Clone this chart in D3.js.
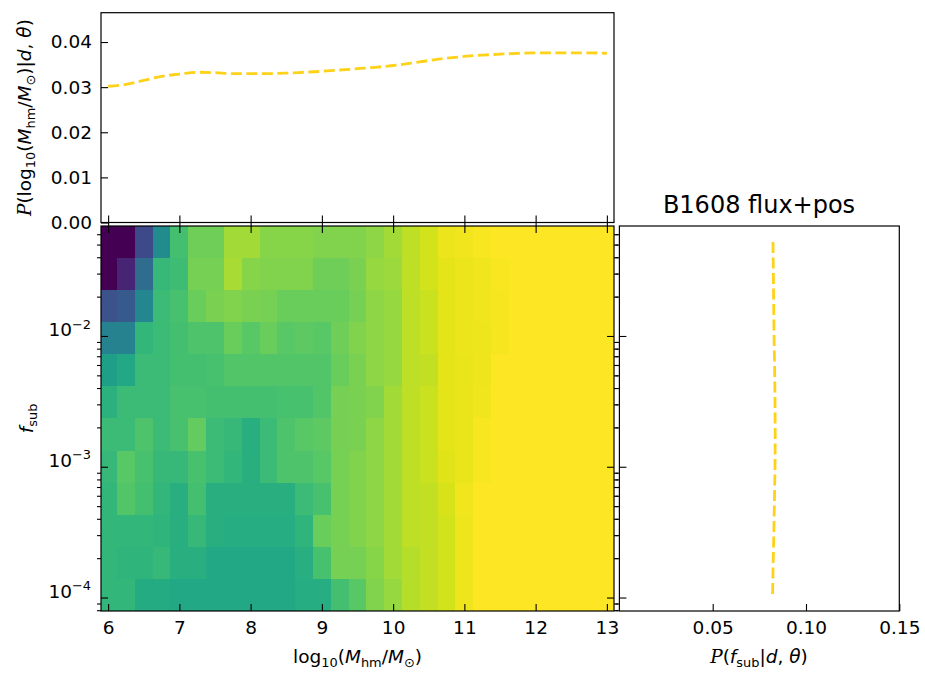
<!DOCTYPE html>
<html><head><meta charset="utf-8">
<script src="https://cdn.jsdelivr.net/npm/d3@7"></script>
<style>body{margin:0;background:#fff}svg{display:block}</style>
</head><body><svg id="c" width="925" height="673"></svg>
<script>
// ---------------- DATA ----------------
const massCenters = [6,6.25,6.5,6.75,7,7.25,7.5,7.75,8,8.25,8.5,8.75,9,9.25,9.5,9.75,10,10.25,10.5,10.75,11,11.25,11.5,11.75,12,12.25,12.5,12.75,13];
// log10(f_sub) row centres, top row first
const fsubLogCenters = [-1.282,-1.527,-1.772,-2.018,-2.263,-2.508,-2.753,-2.999,-3.244,-3.489,-3.735,-3.980];
// normalised joint posterior (colour value), one row per f_sub bin, top row first
const row0  = [0.00,0.00,0.22,0.48,0.70,0.78,0.78,0.86,0.86,0.82, 0.82,0.82,0.81,0.81,0.81,0.83,0.86,0.90,0.93,0.97, 0.98,0.99,1,1,1,1,1,1,1];
const row1  = [0.00,0.10,0.35,0.67,0.69,0.79,0.79,0.87,0.82,0.81, 0.81,0.81,0.78,0.78,0.80,0.84,0.85,0.90,0.93,0.96, 0.97,0.98,0.99,1,1,1,1,1,1];
const row2  = [0.25,0.28,0.46,0.68,0.71,0.77,0.80,0.81,0.80,0.79, 0.77,0.77,0.77,0.77,0.79,0.83,0.84,0.90,0.92,0.96, 0.97,0.98,0.985,1,1,1,1,1,1];
const row3  = [0.44,0.44,0.66,0.68,0.70,0.72,0.72,0.77,0.74,0.77, 0.74,0.75,0.74,0.78,0.81,0.83,0.84,0.90,0.92,0.96, 0.97,0.975,0.985,1,1,1,1,1,1];
const row4  = [0.56,0.60,0.68,0.68,0.70,0.70,0.71,0.73,0.73,0.73, 0.73,0.73,0.73,0.77,0.80,0.83,0.84,0.90,0.91,0.96, 0.965,0.975,1,1,1,1,1,1,1];
const row5  = [0.64,0.68,0.68,0.68,0.71,0.71,0.70,0.70,0.70,0.70, 0.71,0.71,0.73,0.79,0.80,0.81,0.86,0.90,0.92,0.96, 0.965,0.98,1,1,1,1,1,1,1];
const row6  = [0.68,0.68,0.72,0.68,0.71,0.76,0.68,0.67,0.63,0.68, 0.72,0.74,0.75,0.79,0.80,0.83,0.86,0.90,0.92,0.96, 0.965,0.99,1,1,1,1,1,1,1];
const row7  = [0.67,0.74,0.71,0.67,0.67,0.71,0.68,0.66,0.63,0.68, 0.72,0.72,0.74,0.79,0.81,0.83,0.86,0.90,0.92,0.95, 0.965,0.99,1,1,1,1,1,1,1];
const row8  = [0.66,0.73,0.70,0.66,0.63,0.70,0.63,0.63,0.63,0.63, 0.63,0.68,0.71,0.79,0.81,0.83,0.86,0.90,0.91,0.94, 0.98,1,1,1,1,1,1,1,1];
const row9  = [0.66,0.66,0.66,0.65,0.63,0.67,0.63,0.62,0.62,0.62, 0.62,0.65,0.77,0.79,0.81,0.83,0.86,0.90,0.91,0.93, 0.975,1,1,1,1,1,1,1,1];
const row10 = [0.66,0.65,0.65,0.67,0.63,0.63,0.60,0.60,0.60,0.60, 0.60,0.63,0.71,0.79,0.79,0.82,0.86,0.89,0.91,0.93, 0.975,1,1,1,1,1,1,1,1];
const row11 = [0.66,0.66,0.61,0.61,0.60,0.60,0.60,0.60,0.60,0.60, 0.60,0.62,0.62,0.70,0.74,0.81,0.84,0.89,0.91,0.93, 0.975,1,1,1,1,1,1,1,1];
const jointRows = [row0,row1,row2,row3,row4,row5,row6,row7,row8,row9,row10,row11];
// marginal over half-mode mass (top panel), one per massCenters
const massMarginal = [0.0302,0.0306,0.0315,0.0324,0.0329,0.0333,0.0332,0.0330,0.0330,0.0330,0.0331,0.0333,0.0335,0.0338,0.0341,0.0344,0.0348,0.0353,0.0359,0.0364,0.0368,0.0371,0.0373,0.0375,0.0376,0.0376,0.0376,0.0376,0.0375];
// marginal over f_sub (right panel), one per fsubLogCenters (top first)
const fsubMarginal = [0.0823,0.0825,0.0827,0.0829,0.0832,0.0834,0.0835,0.0834,0.0831,0.0828,0.0824,0.0821];
const massTicks = [6,7,8,9,10,11,12,13];
const fsubMajorTicks = [1e-4,1e-3,1e-2];
const topTicks = [0,0.01,0.02,0.03,0.04];
const rightTicks = [0.05,0.10,0.15];
const titleText = "B1608 flux+pos";

// ---------------- DRAW ----------------
const svg = d3.select('#c');
const FONT = "DejaVu Sans";
const FS = 18.5;
const LINE = "#ffd21a";

const xM = d3.scaleLinear().domain([5.9,13.1]).range([101,614]);
const yF = d3.scaleLog().domain([Math.pow(10,-4.103), Math.pow(10,-1.159)]).range([611,226]);
const yTop = d3.scaleLinear().domain([0,0.0465]).range([222.5,12.7]);
const xR = d3.scaleLinear().domain([0,0.15]).range([619.4,899.3]);
const color = d3.interpolateViridis;

function mathText(sel, parts, size){
  let shift = 0;
  parts.forEach(p => {
    const ts = sel.append('tspan').text(p.t);
    let target = 0, fsz = size;
    if (p.sub){ target = 0.22*size; fsz = size*0.7; }
    if (p.sup){ target = -0.42*size; fsz = size*0.7; }
    ts.attr('dy', (target - shift).toFixed(2)); shift = target;
    ts.attr('font-size', fsz);
    if (p.it) ts.attr('font-style','italic');
    if (p.cal) ts.attr('font-family','DejaVu Serif').attr('font-style','italic');
  });
}

// clip for heatmap
svg.append('defs').append('clipPath').attr('id','hm')
  .append('rect').attr('x',101).attr('y',226).attr('width',513).attr('height',385);

const halfW = (massCenters[1]-massCenters[0])/2;
const halfH = (fsubLogCenters[0]-fsubLogCenters[1])/2;
const cells = [];
jointRows.forEach((row,r) => row.forEach((v,c) => cells.push({r,c,v})));
svg.append('g').attr('clip-path','url(#hm)')
  .selectAll('rect').data(cells).join('rect')
  .attr('shape-rendering','crispEdges')
  .attr('x', d => xM(massCenters[d.c]-halfW))
  .attr('width', d => xM(massCenters[d.c]+halfW) - xM(massCenters[d.c]-halfW) + 0.5)
  .attr('y', d => yF(Math.pow(10, fsubLogCenters[d.r]+halfH)))
  .attr('height', d => yF(Math.pow(10, fsubLogCenters[d.r]-halfH)) - yF(Math.pow(10, fsubLogCenters[d.r]+halfH)) + 0.5)
  .attr('fill', d => color(d.v));

function styleAxis(g){
  g.select('.domain').remove();
  g.attr('font-family', FONT).attr('font-size', FS);
  g.selectAll('line').attr('stroke','#000').attr('stroke-width',1.1);
  g.selectAll('text').attr('fill','#000');
}
const minorTicks = yF.ticks().filter(t => !fsubMajorTicks.some(m => Math.abs(m-t)/m < 1e-6));

// heatmap axes
svg.append('g').attr('transform','translate(0,611)')
  .call(d3.axisBottom(xM).tickValues(massTicks).tickSizeInner(-7).tickSizeOuter(0).tickPadding(10).tickFormat(d3.format('d')))
  .call(styleAxis);
svg.append('g').attr('transform','translate(0,226)')
  .call(d3.axisTop(xM).tickValues(massTicks).tickSizeInner(-7).tickSizeOuter(0).tickFormat(''))
  .call(styleAxis);
const gl = svg.append('g').attr('transform','translate(101,0)')
  .call(d3.axisLeft(yF).tickValues(fsubMajorTicks).tickSizeInner(-7).tickSizeOuter(0).tickPadding(10).tickFormat(''))
  .call(styleAxis);
gl.selectAll('.tick text').each(function(d){
  const t = d3.select(this).attr('dy','0.32em');
  mathText(t, [{t:'10'},{t:'\u2212'+Math.round(-Math.log10(d)), sup:true}], FS);
});
svg.append('g').attr('transform','translate(101,0)')
  .call(d3.axisLeft(yF).tickValues(minorTicks).tickSizeInner(4).tickSizeOuter(0).tickFormat(''))
  .call(styleAxis);
svg.append('g').attr('transform','translate(614,0)')
  .call(d3.axisRight(yF).tickValues(fsubMajorTicks).tickSizeInner(-7).tickSizeOuter(0).tickFormat(''))
  .call(styleAxis);
svg.append('g').attr('transform','translate(614,0)')
  .call(d3.axisRight(yF).tickValues(minorTicks).tickSizeInner(4).tickSizeOuter(0).tickFormat(''))
  .call(styleAxis);

// top panel axes
svg.append('g').attr('transform','translate(101,0)')
  .call(d3.axisLeft(yTop).tickValues(topTicks).tickSizeInner(-7).tickSizeOuter(0).tickPadding(9).tickFormat(d3.format('.2f')))
  .call(styleAxis);
svg.append('g').attr('transform','translate(0,222.5)')
  .call(d3.axisBottom(xM).tickValues(massTicks).tickSizeInner(-7).tickSizeOuter(0).tickFormat(''))
  .call(styleAxis);
svg.append('g').attr('transform','translate(0,222.5)')
  .call(d3.axisBottom(xM).tickValues(massTicks).tickSizeInner(4).tickSizeOuter(0).tickFormat(''))
  .call(styleAxis);

// right panel axes
svg.append('g').attr('transform','translate(0,611)')
  .call(d3.axisBottom(xR).tickValues(rightTicks).tickSizeInner(-7).tickSizeOuter(0).tickPadding(10).tickFormat(d3.format('.2f')))
  .call(styleAxis);
svg.append('g').attr('transform','translate(619.4,0)')
  .call(d3.axisLeft(yF).tickValues(fsubMajorTicks).tickSizeInner(-7).tickSizeOuter(0).tickFormat(''))
  .call(styleAxis);
svg.append('g').attr('transform','translate(619.4,0)')
  .call(d3.axisLeft(yF).tickValues(minorTicks).tickSizeInner(4).tickSizeOuter(0).tickFormat(''))
  .call(styleAxis);

// lines
svg.append('path')
  .datum(massCenters.map((m,i) => ({m, p: massMarginal[i]})))
  .attr('d', d3.line().x(d => xM(d.m)).y(d => yTop(d.p)).curve(d3.curveMonotoneX))
  .attr('fill','none').attr('stroke',LINE).attr('stroke-width',2.8).attr('stroke-dasharray','11,4.5');
svg.append('path')
  .datum(fsubLogCenters.map((l,i) => ({f: Math.pow(10,l), p: fsubMarginal[i]})))
  .attr('d', d3.line().x(d => xR(d.p)).y(d => yF(d.f)))
  .attr('fill','none').attr('stroke',LINE).attr('stroke-width',2.8).attr('stroke-dasharray','11,4.5');

// frames
[[101,12.7,513,209.8],[101,226,513,385],[619.4,226,279.9,385]].forEach(b => {
  svg.append('rect').attr('x',b[0]).attr('y',b[1]).attr('width',b[2]).attr('height',b[3])
    .attr('fill','none').attr('stroke','#000').attr('stroke-width',1.2);
});

// labels
const txt = (x,y,anchor) => svg.append('text').attr('x',x).attr('y',y).attr('text-anchor',anchor)
  .attr('font-family',FONT).attr('font-size',FS).attr('fill','#000');
svg.append('text').attr('x',759).attr('y',213).attr('text-anchor','middle')
  .attr('font-family',FONT).attr('font-size',24).attr('fill','#000').text(titleText);
mathText(txt(357.5,663,'middle'), [{t:'log'},{t:'10',sub:true},{t:'('},{t:'M',it:true},{t:'hm',sub:true},{t:'/'},{t:'M',it:true},{t:'\u2299',sub:true},{t:')'}], FS);
mathText(txt(759,663,'middle'), [{t:'P',cal:true},{t:'('},{t:'f',it:true},{t:'sub',sub:true},{t:'|'},{t:'d',it:true},{t:', '},{t:'\u03b8',it:true},{t:')'}], FS);
mathText(svg.append('g').attr('transform','translate(33,418.5) rotate(-90)').append('text')
  .attr('text-anchor','middle').attr('font-family',FONT).attr('font-size',FS).attr('fill','#000'),
  [{t:'f',it:true},{t:'sub',sub:true}], FS);
mathText(svg.append('g').attr('transform','translate(31,117.6) rotate(-90)').append('text')
  .attr('text-anchor','middle').attr('font-family',FONT).attr('font-size',FS).attr('fill','#000'),
  [{t:'P',cal:true},{t:'(log'},{t:'10',sub:true},{t:'('},{t:'M',it:true},{t:'hm',sub:true},{t:'/'},{t:'M',it:true},{t:'\u2299',sub:true},{t:')|'},{t:'d',it:true},{t:', '},{t:'\u03b8',it:true},{t:')'}], FS);
</script></body></html>
